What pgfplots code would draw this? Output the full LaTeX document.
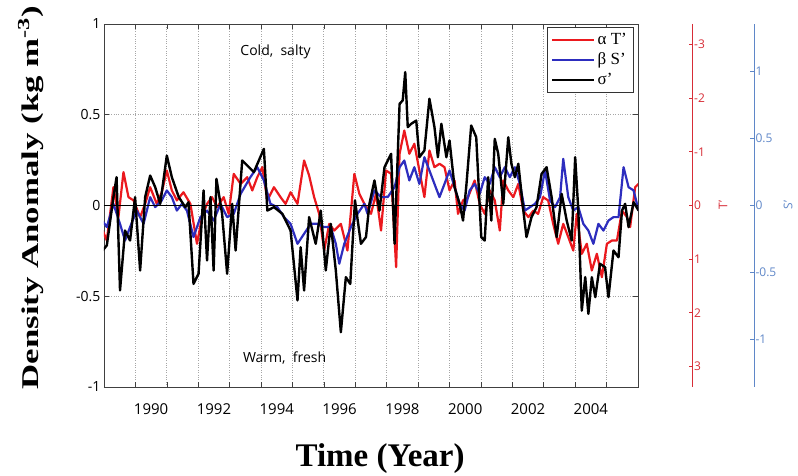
\documentclass[border=0pt]{standalone}
\usepackage{graphicx}
\usepackage{fontspec}
\setmainfont{Liberation Serif}
\setsansfont{Open Sans}
\usepackage{pgfplots}
\pgfplotsset{compat=1.18}

\definecolor{lred}{RGB}{235,25,30}
\definecolor{lblue}{RGB}{45,45,190}
\definecolor{axred}{RGB}{215,45,55}
\definecolor{axblue}{RGB}{95,135,200}

\begin{document}
\begin{tikzpicture}
\begin{axis}[
  scale only axis, width=534pt, height=363pt,
  xmin=1988.5, xmax=2005.5, ymin=-1, ymax=1,
  xtick={1989.5,1990.5,...,2004.5}, xticklabels={},
  extra x ticks={1990,1992,...,2004},
  extra x tick labels={1990,1992,1994,1996,1998,2000,2002,2004},
  extra x tick style={grid=none, major tick length=0pt},
  ytick={-1,-0.5,0,0.5,1}, yticklabels={-1,-0.5,0,0.5,1},
  grid=major, grid style={dotted, gray!70, line width=0.8pt},
  major tick length=5pt,
  axis line style={black!75, line width=0.8pt},
  tick style={black!75, line width=0.6pt},
  yticklabel style={font=\sffamily\fontsize{14}{14}\selectfont},
  xticklabel style={font=\sffamily\fontsize{15}{15}\selectfont, yshift=-13pt},
  xlabel={\fontsize{33}{33}\selectfont\bfseries Time (Year)},
  xlabel style={at={(axis description cs:0.517,-0.197)}, anchor=center},
  ylabel={\scalebox{1.45}[1]{\fontsize{24}{24}\selectfont\bfseries Density Anomaly (kg m\textsuperscript{-3})}},
  ylabel style={at={(axis description cs:-0.137,0.522)}, anchor=center},
  legend style={at={(rel axis cs:0.991,0.992)}, anchor=north east, draw=black!80,
    line width=0.6pt, font=\fontsize{17}{17}\selectfont, row sep=3pt, inner sep=4pt,
    cells={anchor=west}},
  legend image code/.code={\draw[#1] (0pt,0pt) -- (42pt,0pt);},
  every axis plot/.append style={line join=round},
]

\addplot[lred, line width=2.2pt] coordinates {
(1988.37,-0.101) (1988.59,-0.193) (1988.80,0.101) (1988.96,-0.064) (1989.12,0.184)
(1989.28,0.046) (1989.44,0.028) (1989.65,-0.064) (1989.81,0.009) (1989.97,0.101)
(1990.18,0.009) (1990.34,0.073) (1990.50,0.193) (1990.66,0.083) (1990.82,0.028)
(1991.03,0.073) (1991.25,0.009) (1991.46,-0.211) (1991.62,-0.064) (1991.78,0.009)
(1991.94,0.046) (1992.10,-0.009) (1992.31,0.046) (1992.47,-0.046) (1992.63,0.174)
(1992.85,0.119) (1993.06,0.156) (1993.22,0.083) (1993.38,0.156) (1993.54,0.211)
(1993.70,0.028) (1993.91,0.101) (1994.12,0.046) (1994.28,0.009) (1994.44,0.073)
(1994.66,0.009) (1994.87,0.248) (1995.03,0.165) (1995.19,0.046) (1995.35,-0.046)
(1995.51,-0.248) (1995.67,-0.101) (1995.83,-0.138) (1996.04,-0.101) (1996.25,-0.248)
(1996.47,0.174) (1996.63,0.064) (1996.79,0.009) (1997.00,-0.046) (1997.16,0.064)
(1997.32,-0.138) (1997.48,0.193) (1997.64,0.174) (1997.80,-0.340) (1997.91,0.285)
(1998.06,0.413) (1998.22,0.285) (1998.38,0.340) (1998.54,0.193) (1998.70,0.046)
(1998.86,0.303) (1999.02,0.211) (1999.18,0.230) (1999.34,0.211) (1999.50,0.083)
(1999.66,0.138) (1999.77,-0.046) (1999.93,0.028) (2000.09,0.046) (2000.30,0.138)
(2000.46,0.009) (2000.62,-0.046) (2000.78,0.083) (2000.94,0.028) (2001.10,-0.138)
(2001.21,0.138) (2001.37,0.083) (2001.53,0.046) (2001.69,0.119) (2001.85,-0.028)
(2002.01,-0.064) (2002.17,-0.028) (2002.32,-0.046) (2002.48,0.046) (2002.64,0.028)
(2002.80,-0.101) (2002.96,-0.211) (2003.12,-0.101) (2003.28,-0.174) (2003.44,-0.248)
(2003.55,-0.046) (2003.71,-0.266) (2003.87,-0.211) (2004.03,-0.358) (2004.19,-0.266)
(2004.35,-0.395) (2004.51,-0.211) (2004.67,-0.193) (2004.83,-0.193) (2004.99,-0.028)
(2005.15,-0.064) (2005.25,-0.119) (2005.41,0.101) (2005.52,0.119)
};
\addlegendentry{α T’}

\addplot[lblue, line width=2.2pt] coordinates {
(1988.37,-0.064) (1988.59,-0.119) (1988.80,0.009) (1989.01,-0.101) (1989.17,-0.193)
(1989.33,-0.119) (1989.54,-0.028) (1989.76,-0.101) (1989.97,0.046) (1990.13,-0.009)
(1990.34,0.028) (1990.50,0.083) (1990.66,0.046) (1990.82,-0.028) (1990.98,0.009)
(1991.14,-0.028) (1991.35,-0.174) (1991.57,-0.064) (1991.78,-0.028) (1991.99,-0.083)
(1992.21,0.009) (1992.42,-0.064) (1992.63,-0.046) (1992.85,0.064) (1993.16,0.156)
(1993.38,0.211) (1993.59,0.138) (1993.80,0.009) (1994.02,-0.009) (1994.23,-0.064)
(1994.44,-0.101) (1994.66,-0.211) (1994.87,-0.156) (1995.08,-0.101) (1995.29,-0.101)
(1995.51,-0.119) (1995.72,-0.119) (1995.88,-0.211) (1995.99,-0.321) (1996.15,-0.211)
(1996.36,-0.119) (1996.57,-0.046) (1996.79,0.009) (1996.89,-0.046) (1997.11,0.083)
(1997.32,0.046) (1997.53,0.046) (1997.75,0.101) (1997.91,0.211) (1998.06,0.248)
(1998.22,0.138) (1998.38,0.211) (1998.54,0.119) (1998.70,0.266) (1998.86,0.193)
(1999.02,0.119) (1999.18,0.046) (1999.34,0.119) (1999.50,0.193) (1999.66,0.101)
(1999.82,0.009) (1999.98,-0.028) (2000.14,0.083) (2000.30,0.119) (2000.46,0.064)
(2000.62,0.156) (2000.78,0.119) (2000.94,0.211) (2001.10,0.156) (2001.26,0.211)
(2001.42,0.156) (2001.58,0.211) (2001.74,0.119) (2001.90,-0.028) (2002.06,-0.009)
(2002.22,0.009) (2002.38,0.046) (2002.54,0.193) (2002.70,0.028) (2002.86,-0.009)
(2003.02,0.046) (2003.12,0.257) (2003.28,0.046) (2003.44,-0.028) (2003.60,-0.009)
(2003.76,-0.101) (2003.92,-0.138) (2004.08,-0.211) (2004.24,-0.101) (2004.40,-0.138)
(2004.56,-0.083) (2004.72,-0.064) (2004.88,-0.064) (2005.04,0.211) (2005.20,0.101)
(2005.36,0.083) (2005.52,-0.028)
};
\addlegendentry{β S’}

\addplot[black, line width=2.4pt] coordinates {
(1988.37,-0.266) (1988.59,-0.220) (1988.80,0.046) (1988.90,0.156) (1989.01,-0.468)
(1989.17,-0.138) (1989.33,-0.193) (1989.49,0.046) (1989.65,-0.358) (1989.81,0.046)
(1989.97,0.165) (1990.13,0.101) (1990.29,0.009) (1990.50,0.275) (1990.66,0.156)
(1990.88,0.046) (1991.09,-0.009) (1991.19,0.018) (1991.35,-0.432) (1991.51,-0.376)
(1991.67,0.083) (1991.78,-0.303) (1991.89,0.046) (1991.99,-0.358) (1992.08,0.147)
(1992.26,-0.046) (1992.42,-0.376) (1992.58,0.009) (1992.69,-0.248) (1992.90,0.248)
(1993.27,0.184) (1993.59,0.312) (1993.70,-0.028) (1993.91,-0.009) (1994.18,-0.046)
(1994.44,-0.138) (1994.66,-0.523) (1994.76,-0.230) (1994.87,-0.468) (1995.03,-0.064)
(1995.24,-0.211) (1995.40,-0.028) (1995.56,-0.358) (1995.72,-0.101) (1995.88,-0.358)
(1996.04,-0.698) (1996.20,-0.395) (1996.34,-0.432) (1996.49,0.028) (1996.68,-0.211)
(1996.84,-0.174) (1996.95,0.009) (1997.11,0.138) (1997.27,-0.028) (1997.43,0.211)
(1997.64,0.285) (1997.75,-0.211) (1997.91,0.560) (1998.01,0.579) (1998.09,0.735)
(1998.17,0.432) (1998.28,0.450) (1998.44,0.468) (1998.54,0.266) (1998.70,0.303)
(1998.86,0.588) (1999.02,0.432) (1999.13,0.266) (1999.24,0.450) (1999.40,0.266)
(1999.50,0.358) (1999.66,0.101) (1999.82,0.009) (1999.93,-0.083) (2000.04,0.119)
(2000.19,0.441) (2000.35,0.376) (2000.51,-0.174) (2000.62,-0.193) (2000.73,0.156)
(2000.83,-0.083) (2000.94,0.367) (2001.05,0.285) (2001.21,0.009) (2001.37,0.376)
(2001.47,0.230) (2001.58,0.156) (2001.69,0.230) (2001.85,-0.028) (2001.95,-0.174)
(2002.11,-0.064) (2002.27,-0.009) (2002.43,0.174) (2002.59,0.211) (2002.75,0.046)
(2002.91,-0.174) (2003.07,0.064) (2003.23,-0.083) (2003.39,-0.193) (2003.50,0.266)
(2003.60,-0.028) (2003.71,-0.579) (2003.82,-0.395) (2003.92,-0.597) (2004.03,-0.395)
(2004.14,-0.505) (2004.29,-0.321) (2004.45,-0.340) (2004.56,-0.505) (2004.72,-0.248)
(2004.88,-0.285) (2004.99,-0.028) (2005.09,0.009) (2005.20,-0.119) (2005.36,0.018)
(2005.52,-0.028)
};
\addlegendentry{σ’}

\addplot[black, line width=0.9pt, forget plot] coordinates {(1988.5,0) (2005.5,0)};

\node[font=\sffamily\fontsize{14}{14}\selectfont] at (axis cs:1993.96,0.846) {Cold,\ \ salty};
\node[font=\sffamily\fontsize{14}{14}\selectfont] at (axis cs:1994.25,-0.84) {Warm,\ \ fresh};
\end{axis}

% red temperature axis
\begin{axis}[
  scale only axis, width=10pt, height=363pt, at={(578.7pt,0pt)},
  hide x axis, axis y line*=right, xmin=0, xmax=1,
  y dir=reverse, ymin=-3.38, ymax=3.38,
  ytick={-3,-2,-1,0,1,2,3}, yticklabels={-3,-2,-1,0,1,2,3},
  axis line style={axred, line width=1pt},
  ytick style={axred, line width=0.8pt}, major tick length=4pt,
  yticklabel style={font=\sffamily\fontsize{12}{12}\selectfont, text=axred, xshift=-2pt},
]
\addplot[draw=none] coordinates {(0.5,0)};
\end{axis}

% blue salinity axis
\begin{axis}[
  scale only axis, width=10pt, height=363pt, at={(640pt,0pt)},
  hide x axis, axis y line*=right, xmin=0, xmax=1,
  ymin=-1.354, ymax=1.354,
  ytick={-1,-0.5,0,0.5,1}, yticklabels={-1,-0.5,0,0.5,1},
  axis line style={axblue, line width=1pt},
  ytick style={axblue, line width=0.8pt}, major tick length=4pt,
  yticklabel style={font=\sffamily\fontsize{12}{12}\selectfont, text=axblue, xshift=-2pt},
]
\addplot[draw=none] coordinates {(0.5,0)};
\end{axis}

% axis names of the two right-hand scales
\node[rotate=90, text=axred, font=\sffamily\fontsize{12}{12}\selectfont, inner sep=1pt]
  at (619pt,182pt) {T’};
\node[rotate=90, text=axblue, font=\sffamily\fontsize{12}{12}\selectfont, inner sep=1pt]
  at (684pt,182pt) {S’};

\pgfresetboundingbox
\path (-104pt,-89pt) rectangle (694pt,387pt);
\end{tikzpicture}
\end{document}
